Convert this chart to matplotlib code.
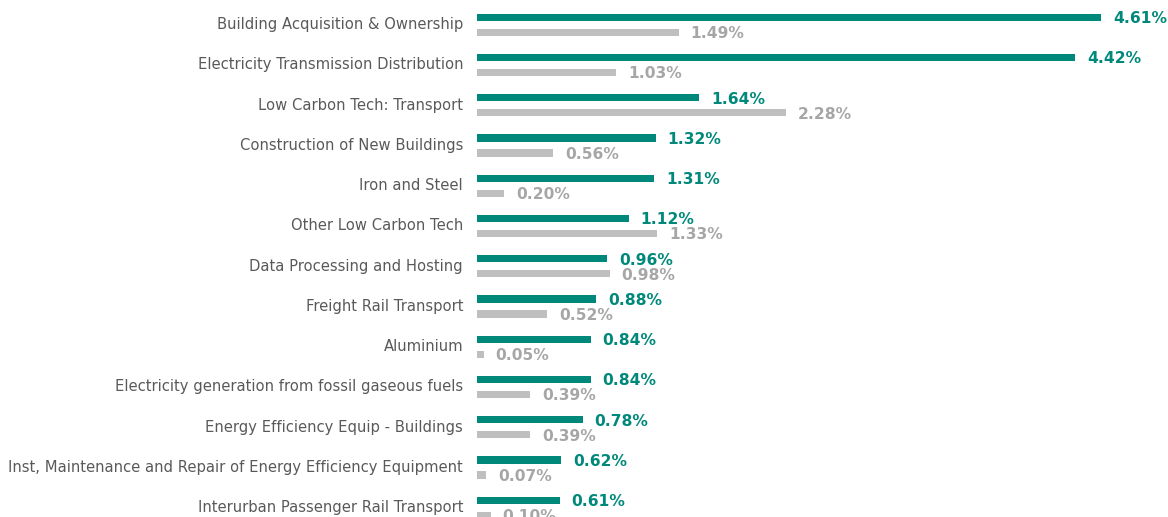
import matplotlib.pyplot as plt
import numpy as np

categories = [
    "Building Acquisition & Ownership",
    "Electricity Transmission Distribution",
    "Low Carbon Tech: Transport",
    "Construction of New Buildings",
    "Iron and Steel",
    "Other Low Carbon Tech",
    "Data Processing and Hosting",
    "Freight Rail Transport",
    "Aluminium",
    "Electricity generation from fossil gaseous fuels",
    "Energy Efficiency Equip - Buildings",
    "Inst, Maintenance and Repair of Energy Efficiency Equipment",
    "Interurban Passenger Rail Transport",
]
series_a = [4.61, 4.42, 1.64, 1.32, 1.31, 1.12, 0.96, 0.88, 0.84, 0.84, 0.78, 0.62, 0.61]
series_b = [1.49, 1.03, 2.28, 0.56, 0.20, 1.33, 0.98, 0.52, 0.05, 0.39, 0.39, 0.07, 0.10]

teal = '#00897B'
grey = '#BFBFBF'
grey_txt = '#A6A6A6'

W, H = 1168, 517
fig = plt.figure(figsize=(W / 100, H / 100), dpi=100)
px_per_unit = 135.4
left = 477
ax = fig.add_axes([left / W, 0, 5 * px_per_unit / W, 1])

row_px = 40.25
y = np.arange(len(categories))
off = 0.186
h = 0.175

ax.barh(y - off, series_a, height=h, color=teal)
ax.barh(y + off, series_b, height=h, color=grey)

for i in range(len(categories)):
    ax.annotate('%.2f%%' % series_a[i], (series_a[i], y[i] - off), xytext=(8.6, -1),
                textcoords='offset points', va='center', ha='left',
                color=teal, fontsize=11.2, fontweight='bold')
    ax.annotate('%.2f%%' % series_b[i], (series_b[i], y[i] + off), xytext=(8.6, -1),
                textcoords='offset points', va='center', ha='left',
                color=grey_txt, fontsize=11.2, fontweight='bold')
    ax.annotate(categories[i], (0, y[i]), xytext=(-10, 0), textcoords='offset points',
                va='center', ha='right', color='#595959', fontsize=10.6)

ax.set_xlim(0, 5)
top = -24.75 / row_px
ax.set_ylim(top + H / row_px, top)
ax.axis('off')

fig.savefig('out.png', dpi=100)
